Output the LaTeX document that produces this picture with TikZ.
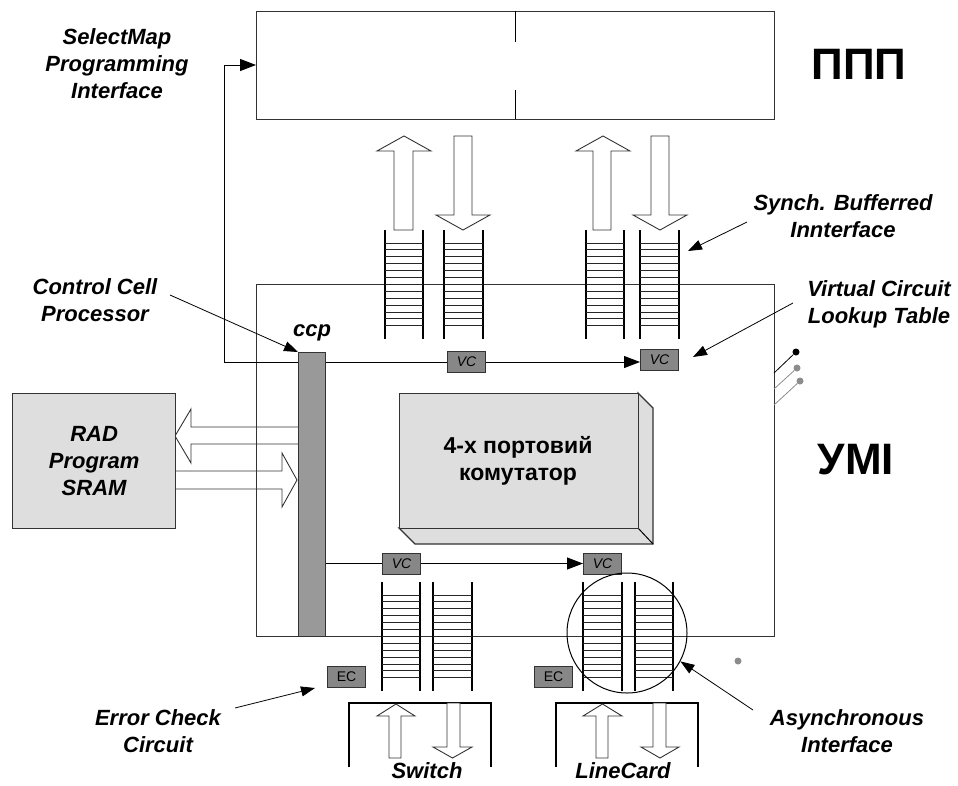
\documentclass[tikz,border=0pt]{standalone}
\usepackage{fontspec}
\setmainfont{Liberation Sans}
\usetikzlibrary{arrows.meta}
\newcommand\fifo[4]{%
  \draw[line width=2pt] (#1,#3) -- (#1,#4) (#2,#3) -- (#2,#4);
  \foreach \k in {0,...,12} \draw[line width=1pt, black!85] (#1,{#3+13+\k*6.9}) -- (#2,{#3+13+\k*6.9});
}
\newcommand\fatup[7]{%
  \draw[fat] (#1,#7) -- (#1,#6) -- (#3,#6) -- ({(#3+#4)/2},#5) -- (#4,#6) -- (#2,#6) -- (#2,#7) -- cycle;}
\newcommand\fatdown[7]{%
  \draw[fat] (#1,#5) -- (#1,#6) -- (#3,#6) -- ({(#3+#4)/2},#7) -- (#4,#6) -- (#2,#6) -- (#2,#5) -- cycle;}
\tikzset{
  lbl/.style={font=\fontsize{22}{27}\selectfont\bfseries\itshape, align=center, inner sep=0pt},
  big/.style={font=\fontsize{44}{50}\selectfont\bfseries, inner sep=0pt},
  boxline/.style={draw=black!80, line width=1.2pt},
  fat/.style={draw=black!80, line width=0.9pt, fill=white},
  smallbox/.style={draw=black!80, line width=1pt, fill=black!47, minimum width=38pt, minimum height=21pt, inner sep=0pt},
  vcbox/.style={smallbox, font=\fontsize{14}{14}\selectfont\itshape},
  ecbox/.style={smallbox, font=\fontsize{14}{14}\selectfont},
  lblarrow/.style={line width=0.8pt, -{Triangle[length=14pt,width=10pt]}},
  sigarrow/.style={line width=1pt, -{Triangle[length=16pt,width=12pt]}},
  sigline/.style={line width=1pt}
}
\begin{document}
\begin{tikzpicture}[x=1pt,y=-1pt]
\useasboundingbox (0,0) rectangle (958,785);
% top box
\node[boxline, anchor=north west, minimum width=518pt, minimum height=108pt, inner sep=0pt] (ppp) at (256,11) {};
\draw[line width=1pt] (515,11) -- (515,42) (515,90) -- (515,119);
\node[big] (ppplbl) at (859,64) {ППП};
% fat arrows top
\fatup{394}{413}{377}{431}{136}{151}{230}
\fatdown{454}{472}{436}{490}{136}{215}{230}
\fatup{593}{611}{576}{630}{136}{151}{230}
\fatdown{651}{669}{633}{687}{136}{215}{230}
% fat arrows left
\draw[fat] (298,427) -- (191,427) -- (191,409) -- (175,436) -- (191,463) -- (191,444) -- (298,444);
\draw[fat] (175,471) -- (282,471) -- (282,453) -- (297,480) -- (282,507) -- (282,489) -- (175,489);
% main box
\node[boxline, anchor=north west, minimum width=518pt, minimum height=352pt, inner sep=0pt] (umi) at (256,284) {};
\node[big] (umilbl) at (856,460) {УМІ};
% FIFOs
\fifo{385}{423}{230}{339}
\fifo{444}{483}{230}{339}
\fifo{586}{624}{230}{339}
\fifo{640}{679}{230}{339}
\fifo{382}{420}{582}{691}
\fifo{433}{472}{582}{691}
\fifo{583}{622}{582}{691}
\fifo{635}{673}{582}{691}
% RAD
\node[boxline, fill=black!13, lbl, anchor=north west, minimum width=163pt, minimum height=135pt] (rad) at (12,393) {};
\node[lbl] (radlbl) at (rad.center) {RAD\\Program\\SRAM};
% switch 3D
\draw[boxline, fill=black!13] (399,528) -- (415,544) -- (653,544) -- (653,408) -- (638,393) -- (638,528) -- cycle;
\draw[line width=1pt] (638,528) -- (653,544);
\node[boxline, fill=black!13, anchor=north west, minimum width=239pt, minimum height=135pt, inner sep=0pt] (swbox) at (399,393) {};
\node[font=\fontsize{23}{27}\selectfont\bfseries, align=center] (swlbl) at (518,461) {4-х портовий\\комутатор};
% ccp
\node[boxline, fill=black!40, anchor=north west, minimum width=27pt, minimum height=284pt, inner sep=0pt] (ccp) at (298,352) {};
\node[lbl] (ccplbl) at (312,333) {ccp};
% VC / EC
\node[vcbox] (vc1) at (466.5,362) {VC};
\node[vcbox] (vc2) at (659.5,360) {VC};
\node[vcbox] (vc3) at (401.5,563.5) {VC};
\node[vcbox] (vc4) at (602.5,563.5) {VC};
\node[ecbox] (ec1) at (346.5,677) {EC};
\node[ecbox] (ec2) at (553.5,677) {EC};
% signal lines
\coordinate (bend) at (224,362);
\coordinate (bendtop) at (224,65);
\draw[sigarrow] (bend) -- (bendtop) -- (ppp.west |- bendtop);
\draw[sigline] (bend) -- (ccp.west |- bend);
\draw[sigline] (ccp.east |- bend) -- (vc1.west |- bend);
\draw[sigarrow] (vc1.east |- bend) -- (vc2.west |- bend);
\draw[sigline] (ccp.east |- vc3.west) -- (vc3.west);
\draw[sigarrow] (vc3.east) -- (vc4.west);
% circle
\node[circle, draw, line width=1pt, minimum size=120pt, inner sep=0pt] (circ) at (627,633) {};
% brackets & bottom arrows
\draw[line width=1.2pt] (349,767) -- (349,703) -- (491,703) -- (491,767);
\draw[line width=1.2pt] (556,767) -- (556,703) -- (698,703) -- (698,767);
\fatup{389}{401}{377}{415}{704}{716}{758}
\fatdown{447}{460}{433}{472}{703}{747}{758}
\fatup{596}{608}{583}{622}{704}{716}{758}
\fatdown{653}{666}{641}{679}{703}{747}{758}
\node[lbl] (sw) at (427,771) {Switch};
\node[lbl] (lc) at (623,771) {LineCard};
% side dots
\coordinate (d1) at (774,373); \coordinate (d2) at (774,389); \coordinate (d3) at (774,405);
\node[circle, fill=black, inner sep=0pt, minimum size=7pt] (p1) at (796,352) {};
\node[circle, fill=black!45, inner sep=0pt, minimum size=7pt] (p2) at (797,368) {};
\node[circle, fill=black!45, inner sep=0pt, minimum size=7pt] (p3) at (800,381) {};
\draw[line width=0.8pt] (d1) -- (p1);
\draw[line width=0.8pt, black!45] (d2) -- (p2);
\draw[line width=0.8pt, black!45] (d3) -- (p3);
\node[circle, fill=black!45, inner sep=0pt, minimum size=7pt] (p4) at (738,661) {};
% labels
\node[lbl] (selmap) at (117,64) {SelectMap\\Programming\\Interface};
\node[lbl] (ccl) at (95,300) {Control Cell\\Processor};
\node[lbl] (synch) at (843,216) {Synch. Bufferred\\Innterface};
\node[lbl] (vclt) at (879,304) {Virtual Circuit\\Lookup Table};
\node[lbl] (err) at (158,731) {Error Check\\Circuit};
\node[lbl] (async) at (847,731) {Asynchronous\\Interface};
% label arrows
\coordinate (a1) at (170,295);
\draw[lblarrow] (a1) -- (ccp.north west);
\coordinate (a2s) at (747,222); \coordinate (a2e) at (688,251);
\draw[lblarrow] (a2s) -- (a2e);
\coordinate (a3s) at (793,303); \coordinate (a3e) at (693,357);
\draw[lblarrow] (a3s) -- (a3e);
\coordinate (a4s) at (235,708); \coordinate (a4e) at (315,688);
\draw[lblarrow] (a4s) -- (a4e);
\coordinate (a5s) at (753,710);
\draw[lblarrow] (a5s) -- (circ.-28);
\end{tikzpicture}
\end{document}
